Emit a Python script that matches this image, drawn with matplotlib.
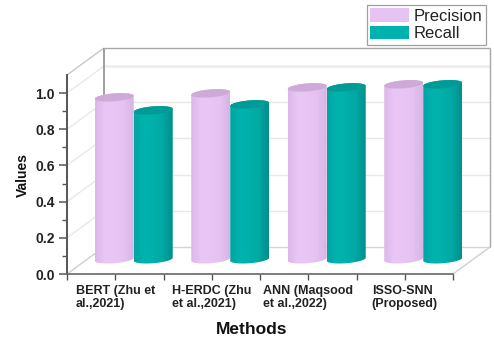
import numpy as np
import matplotlib
matplotlib.use("Agg")
import matplotlib.pyplot as plt
from matplotlib.patches import Patch, PathPatch
from matplotlib.path import Path
from matplotlib.transforms import Affine2D
from matplotlib.colors import LinearSegmentedColormap

plt.rcParams['font.family'] = ['Liberation Sans', 'DejaVu Sans']

methods = ["BERT (Zhu et\nal.,2021)", "H-ERDC (Zhu\net al.,2021)",
           "ANN (Maqsood\net al.,2022)", "ISSO-SNN\n(Proposed)"]
precision = [0.895, 0.917, 0.95, 0.967]
recall = [0.823, 0.856, 0.95, 0.967]
y_ticks = [0.0, 0.2, 0.4, 0.6, 0.8, 1.0]
y_minor = [0.1, 0.3, 0.5, 0.7, 0.9]

W, H = 494, 340
fig = plt.figure(figsize=(W / 100, H / 100), dpi=100, facecolor='white')
ax = fig.add_axes([67 / W, (H - 274) / H, 386 / W, 199 / H])
ax.patch.set_alpha(0)

DX, DY = 0.383, 0.149       # depth of the box, data units
BW = 0.404                  # bar width
EH = 0.022                  # ellipse half height
SHEAR = 0.0085              # slight tilt of the caps

depth = Affine2D().translate(DX * 0.5, DY * 0.5 + 0.007) + ax.transData

# wall, floor and side lines
wall = dict(clip_on=False, zorder=1, solid_capstyle='butt')
for v in y_ticks[1:]:
    c = '#eeeeee' if v == 1.0 else '#e8e8e8'
    lw = 2.0 if v == 1.0 else 1.0
    ax.plot([-0.5 + DX, 3.5 + DX], [v + DY, v + DY], color=c, lw=lw, **wall)
    ax.plot([-0.5, -0.5 + DX], [v, v + DY], color='#e6e6e6', lw=0.9, **wall)
ax.plot([-0.5 + DX, 3.5 + DX], [DY, DY], color='#d4d4d4', lw=1.0, **wall)
ax.plot([-0.5, -0.5 + DX], [0, DY], color='#cfcfcf', lw=1.0, **wall)
ax.plot([3.5, 3.5 + DX], [0, DY], color='#cfcfcf', lw=1.0, **wall)
ax.plot([-0.5, -0.5 + DX], [1.1, 1.1 + DY], color='#c8c8c8', lw=1.0, **wall)
ax.plot([-0.5 + DX, -0.5 + DX], [DY, 1.1 + DY], color='#8f8f8f', lw=1.2, **wall)
ax.plot([-0.5 + DX, 3.5 + DX], [1.1 + DY, 1.1 + DY], color='#a8a8a8', lw=1.0, **wall)
ax.plot([3.5 + DX, 3.5 + DX], [DY, 1.1 + DY], color='#a8a8a8', lw=1.0, **wall)


def cap(xc, yc):
    t = np.linspace(0, 2 * np.pi, 80)
    return np.column_stack([xc + BW / 2 * np.cos(t),
                            yc + EH * np.sin(t) + SHEAR * np.cos(t)])


def cylinder(xc, value, shades, top, order):
    ax.bar(xc, value, BW * 0.96, color=shades[2], transform=depth, zorder=order, clip_on=False)
    t = np.linspace(np.pi, 2 * np.pi, 40)
    lower = np.column_stack([xc + BW / 2 * np.cos(t), EH * np.sin(t) + SHEAR * np.cos(t)])
    t2 = np.linspace(0, np.pi, 40)
    upper = np.column_stack([xc + BW / 2 * np.cos(t2), value + EH * np.sin(t2) + SHEAR * np.cos(t2)])
    outline = np.vstack([lower, upper, lower[:1]])
    clip = PathPatch(Path(outline), transform=depth, facecolor='none', edgecolor='none')
    ax.add_patch(clip)
    clip.set_clip_on(False)
    cmap = LinearSegmentedColormap.from_list('c', shades)
    im = ax.imshow(np.linspace(0, 1, 64)[None, :], cmap=cmap, aspect='auto',
                   extent=[xc - BW / 2, xc + BW / 2, -EH * 2, value + EH * 2],
                   transform=depth, zorder=order + 0.1)
    im.set_clip_box(fig.bbox)
    im.set_clip_path(clip)
    lid = PathPatch(Path(cap(xc, value)), transform=depth, facecolor=top,
                    edgecolor='none', zorder=order + 0.2, clip_on=False)
    ax.add_patch(lid)


PINK = ['#dcb8e8', '#eac6f7', '#e9c5f6', '#e6c2f2', '#d8b4e4']
TEAL = ['#00a5a1', '#00b3ae', '#00b0ab', '#00a8a3', '#008f8b']
for i in range(len(methods)):
    cylinder(i - BW / 2, precision[i], PINK, '#cdaad8', 3 + i * 2)
    cylinder(i + BW / 2, recall[i], TEAL, '#009b97', 4 + i * 2)

ax.set_xlim(-0.5, 3.5)
ax.set_ylim(0, 1.1)

ax.set_xticks(range(len(methods)))
ax.set_xticklabels(methods, fontsize=9, fontweight='bold', color='#222222',
                   multialignment='left', linespacing=1.1)
ax.set_xticks(np.arange(len(methods) + 1) - 0.5, minor=True)
ax.set_yticks(y_ticks)
ax.set_yticklabels([f"{v:.1f}" for v in y_ticks], fontsize=10, fontweight='bold', color='#222222')
ax.set_yticks(y_minor, minor=True)
ax.tick_params(axis='x', which='both', length=4, width=1.0, color='#555555', pad=4)
ax.tick_params(axis='y', which='major', length=6, width=1.1, color='#555555', pad=3)
ax.tick_params(axis='y', which='minor', length=3.5, width=1.0, color='#555555')

for s in ('top', 'right'):
    ax.spines[s].set_visible(False)
ax.spines['left'].set_color('#555555')
ax.spines['left'].set_linewidth(1.4)
ax.spines['bottom'].set_color('#666666')
ax.spines['bottom'].set_linewidth(1.2)

ax.set_xlabel("Methods", fontsize=12.5, fontweight='bold', color='#111111')
ax.xaxis.set_label_coords((252 - 67) / 386, (274 - 329) / 199, transform=ax.transAxes)
ax.xaxis.label.set_va('center')
ax.set_ylabel("Values", fontsize=10, fontweight='bold', color='#111111')
ax.yaxis.set_label_coords((23 - 67) / 386, (274 - 175) / 199, transform=ax.transAxes)
ax.yaxis.label.set_va('center')

handles = [Patch(facecolor='#e6c3f3', edgecolor='none', label='Precision'),
           Patch(facecolor='#00b2ad', edgecolor='none', label='Recall')]
leg = fig.legend(handles=handles, loc='upper left',
                 bbox_to_anchor=(367 / W, (H - 5) / H), bbox_transform=fig.transFigure,
                 fontsize=12, frameon=True, fancybox=False, borderpad=0.2,
                 handlelength=2.3, handleheight=0.85, handletextpad=0.3, labelspacing=0.12,
                 borderaxespad=0, labelcolor='#222222')
leg.get_frame().set_edgecolor('#888888')
leg.get_frame().set_linewidth(0.9)
leg.get_frame().set_facecolor('white')

fig.savefig('out.png', dpi=100, facecolor='white')
